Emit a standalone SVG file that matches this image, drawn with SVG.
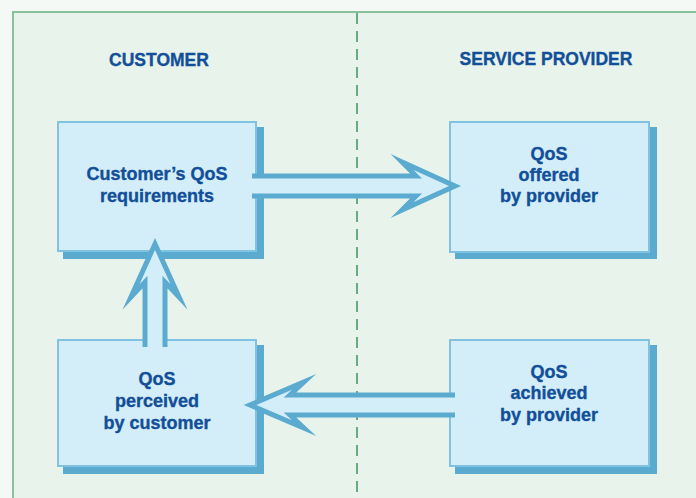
<svg xmlns="http://www.w3.org/2000/svg" width="696" height="498" viewBox="0 0 696 498">
<style>
.box{fill:#d3edf9;stroke:#80c2e0;stroke-width:2}
.shadow{fill:#5aabcf}
.arrow{fill:#d3edf9;stroke:#5aabcf;stroke-width:5;stroke-linejoin:miter;stroke-miterlimit:10}
.lbl{font-family:"Liberation Sans",Arial,sans-serif;font-weight:bold;font-size:18px;fill:#124f98;stroke:#124f98;stroke-width:0.35;text-anchor:middle}
.hdr{font-family:"Liberation Sans",Arial,sans-serif;font-weight:bold;font-size:17.5px;fill:#124f98;stroke:#124f98;stroke-width:0.35;text-anchor:middle}
</style>
<rect x="0" y="0" width="696" height="498" fill="#f5f9f6"/>
<rect id="frame" x="13" y="12" width="700" height="500" fill="#e8f3eb" stroke="#88c19c" stroke-width="2"/>
<line id="divider" x1="357" y1="13" x2="357" y2="498" stroke="#6aaa80" stroke-width="2" stroke-dasharray="11 7"/>
<g id="headers">
<text class="hdr" x="159" y="66">CUSTOMER</text>
<text class="hdr" x="546" y="65">SERVICE PROVIDER</text>
</g>
<g id="node-requirements">
<rect class="shadow" x="63" y="127" width="201" height="132"/>
<rect class="box" x="58" y="122" width="198" height="129"/>
<text class="lbl" x="157" y="180">Customer’s QoS</text>
<text class="lbl" x="157" y="202">requirements</text>
</g>
<g id="node-offered">
<rect class="shadow" x="455" y="127" width="202" height="132"/>
<rect class="box" x="450" y="122" width="199" height="130"/>
<text class="lbl" x="549" y="160">QoS</text>
<text class="lbl" x="549" y="181">offered</text>
<text class="lbl" x="549" y="202">by provider</text>
</g>
<g id="node-perceived">
<rect class="shadow" x="63" y="345" width="201" height="129"/>
<rect class="box" x="58" y="340" width="198" height="126"/>
<text class="lbl" x="157" y="385">QoS</text>
<text class="lbl" x="157" y="407">perceived</text>
<text class="lbl" x="157" y="429">by customer</text>
</g>
<g id="node-achieved">
<rect class="shadow" x="455" y="345" width="202" height="129"/>
<rect class="box" x="450" y="340" width="199" height="126"/>
<text class="lbl" x="549" y="378">QoS</text>
<text class="lbl" x="549" y="399">achieved</text>
<text class="lbl" x="549" y="421">by provider</text>
</g>
<g id="connectors">
<path class="arrow" d="M252,176 L416,176 L402,162 L455,186 L402,210 L416,196 L252,196"/>
<path class="arrow" d="M455,395 L290,395 L304,382 L250,405 L304,428 L290,415 L455,415"/>
<path class="arrow" d="M145,347 L145,282 L131,297 L155,244 L179,297 L165,282 L165,347"/>
</g>
</svg>
